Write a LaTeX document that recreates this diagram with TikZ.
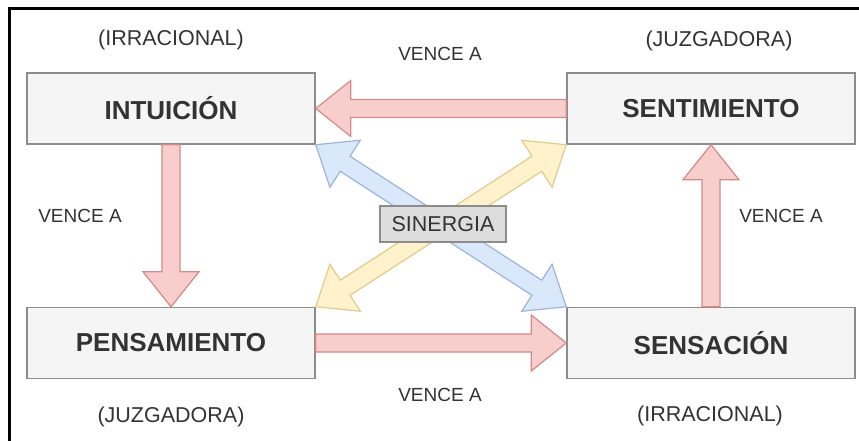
\documentclass[tikz,border=0pt]{standalone}
\usepackage{fontspec}
\setmainfont{Liberation Sans}
\usetikzlibrary{calc}
\definecolor{boxfill}{HTML}{F5F5F5}
\definecolor{boxdraw}{HTML}{8C8C8C}
\definecolor{txt}{HTML}{333333}
\definecolor{redfill}{HTML}{F8CECC}
\definecolor{reddraw}{HTML}{D48A88}
\definecolor{bluefill}{HTML}{DAE8FC}
\definecolor{bluedraw}{HTML}{9DB3DA}
\definecolor{yelfill}{HTML}{FFF2CC}
\definecolor{yeldraw}{HTML}{E2CC8A}
\definecolor{synfill}{HTML}{DDDDDD}
\newcommand\fatarrow[3]{% style, from, to
  \coordinate (fahead) at ($(#3)!35pt!(#2)$);
  \draw[#1] ($(#2)!9pt!90:(#3)$) -- ($(fahead)!9pt!90:(#3)$) -- ($(fahead)!28pt!90:(#3)$)
    -- (#3) -- ($(fahead)!28pt!-90:(#3)$) -- ($(fahead)!9pt!-90:(#3)$) -- ($(#2)!9pt!-90:(#3)$) -- cycle;
}
\newcommand\fatdarrow[3]{% style, from, to
  \coordinate (faheadA) at ($(#2)!35pt!(#3)$);
  \coordinate (faheadB) at ($(#3)!35pt!(#2)$);
  \draw[#1] (#2) -- ($(faheadA)!28pt!90:(#3)$) -- ($(faheadA)!9pt!90:(#3)$) -- ($(faheadB)!9pt!90:(#3)$)
    -- ($(faheadB)!28pt!90:(#3)$) -- (#3) -- ($(faheadB)!28pt!-90:(#3)$) -- ($(faheadB)!9pt!-90:(#3)$)
    -- ($(faheadA)!9pt!-90:(#3)$) -- ($(faheadA)!28pt!-90:(#3)$) -- cycle;
}
\tikzset{
  mainbox/.style={draw=boxdraw, fill=boxfill, line width=1.5pt, minimum width=288pt, minimum height=71pt,
    inner sep=0pt, text=txt, font=\fontsize{26}{30}\selectfont\bfseries},
  tag/.style={text=txt, inner sep=0pt, font=\fontsize{21.5}{25}\selectfont},
  vlabel/.style={text=txt, inner sep=0pt, font=\fontsize{19}{23}\selectfont},
  redarrow/.style={fill=redfill, draw=reddraw, line width=1.2pt, line join=miter},
  bluearrow/.style={fill=bluefill, draw=bluedraw, line width=1.2pt, line join=miter},
  yelarrow/.style={fill=yelfill, draw=yeldraw, line width=1.2pt, line join=miter},
  synbox/.style={draw=boxdraw, fill=synfill, line width=1.5pt, minimum width=126pt, minimum height=36pt,
    inner sep=0pt, text=txt, font=\fontsize{21.5}{25}\selectfont},
}
\begin{document}
\begin{tikzpicture}[x=1pt, y=-1pt]
\useasboundingbox (0,0) rectangle (859,441);
\fill[white] (0,0) rectangle (859,441);
\draw[black, line width=3pt] (9,441) -- (9,9) -- (859,9);

\node[mainbox] (intu) at (171,108.5) {INTUICIÓN};
\node[mainbox] (sent) at (711,108.5) {SENTIMIENTO};
\node[mainbox] (pens) at (171,343) {PENSAMIENTO};
\node[mainbox] (sens) at (711,343) {SENSACIÓN};

\node[tag] (tagA) at (171,40) {(IRRACIONAL)};
\node[tag] (tagB) at (719,41) {(JUZGADORA)};
\node[tag] (tagC) at (171,417) {(JUZGADORA)};
\node[tag] (tagD) at (710,416) {(IRRACIONAL)};

\node[vlabel] (vtop) at (440,54) {VENCE A};
\node[vlabel] (vleft) at (80,216) {VENCE A};
\node[vlabel] (vright) at (781,216) {VENCE A};
\node[vlabel] (vbot) at (440,395) {VENCE A};

\fatdarrow{bluearrow}{intu.south east}{sens.north west}
\fatdarrow{yelarrow}{pens.north east}{sent.south west}

\fatarrow{redarrow}{sent.west}{intu.east}
\fatarrow{redarrow}{intu.south}{pens.north}
\fatarrow{redarrow}{pens.east}{sens.west}
\fatarrow{redarrow}{sens.north}{sent.south}

\node[synbox] (syn) at (443,224) {SINERGIA};
\end{tikzpicture}
\end{document}
